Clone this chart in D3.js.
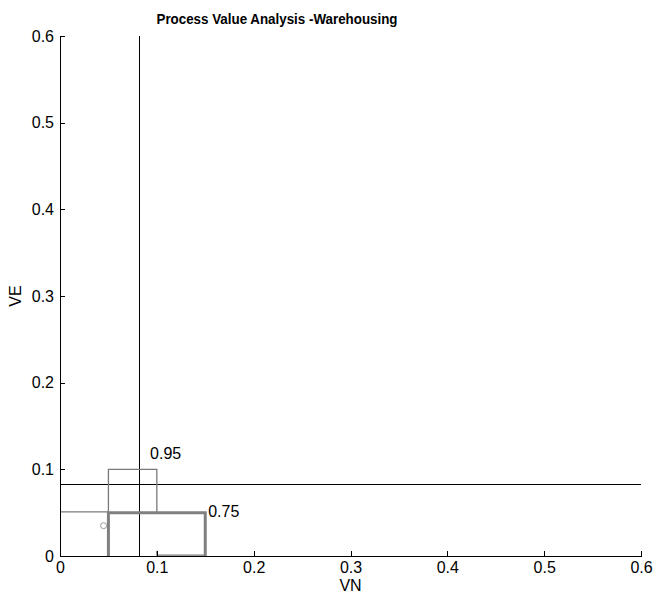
<!DOCTYPE html>
<html>
<head>
<meta charset="utf-8">
<script src="https://cdn.jsdelivr.net/npm/d3@7"></script>
<style>
  body { margin: 0; background: #fff; }
  svg text { font-family: "Liberation Sans", Arial, Helvetica, sans-serif; fill: #000; }
</style>
</head>
<body>
<svg id="chart" width="656" height="600"></svg>
<script>
// Axis ticks
const xTicks = [0, 0.1, 0.2, 0.3, 0.4, 0.5, 0.6];
const yTicks = [0, 0.1, 0.2, 0.3, 0.4, 0.5, 0.6];

// Threshold lines (VN cut and VE cut)
const vnThreshold = 0.082;
const veThreshold = 0.083;

// Region for level 0.95 (thin outline)
const box95 = [[0.05, 0.05], [0.05, 0.1], [0.1, 0.1], [0.1, 0.05]];
// Region for level 0.75 (thick outline)
const box75 = [[0.05, 0], [0.05, 0.05], [0.15, 0.05], [0.15, 0]];
// Lower boundary pieces of the 0.75 region
const baseSegment = [[0.1, 0.006], [0.1, 0.001], [0.15, 0.001]];
const leftSegment = [[0, 0.051], [0.05, 0.051]];
// Operating point
const point = [[0.045, 0.035]];
// Region labels
const labels = [
  { text: "0.95", x: 0.093, y: 0.112 },
  { text: "0.75", x: 0.153, y: 0.045 }
];

const svg = d3.select("#chart");
const m = { left: 60, right: 15, top: 36, bottom: 44 };
const W = 656, H = 600;

const x = d3.scaleLinear().domain([0, 0.6]).range([m.left, W - m.right]);
const y = d3.scaleLinear().domain([0, 0.6]).range([H - m.bottom, m.top]);
const line = d3.line().x(d => x(d[0])).y(d => y(d[1]));

// Threshold lines
svg.append("line")
  .attr("x1", x(vnThreshold)).attr("x2", x(vnThreshold))
  .attr("y1", y(0)).attr("y2", y(0.6))
  .attr("stroke", "#000").attr("stroke-width", 1)
  .attr("shape-rendering", "crispEdges");
svg.append("line")
  .attr("x1", x(0)).attr("x2", x(0.6))
  .attr("y1", y(veThreshold)).attr("y2", y(veThreshold))
  .attr("stroke", "#000").attr("stroke-width", 1)
  .attr("shape-rendering", "crispEdges");

// Thin region outline
svg.append("path").attr("d", line(box95))
  .attr("fill", "none").attr("stroke", "#7a7a7a").attr("stroke-width", 1.3);
svg.append("path").attr("d", line(leftSegment))
  .attr("fill", "none").attr("stroke", "#7a7a7a").attr("stroke-width", 1.3);
svg.append("path").attr("d", line(baseSegment))
  .attr("fill", "none").attr("stroke", "#7a7a7a").attr("stroke-width", 1.3);

// Thick region outline
svg.append("path").attr("d", line(box75))
  .attr("fill", "none").attr("stroke", "#808080").attr("stroke-width", 3)
  .attr("stroke-linejoin", "miter");

// Operating point
svg.selectAll("circle.pt").data(point).enter().append("circle")
  .attr("class", "pt")
  .attr("cx", d => x(d[0])).attr("cy", d => y(d[1])).attr("r", 3)
  .attr("fill", "none").attr("stroke", "#999").attr("stroke-width", 1);

// Labels
svg.selectAll("text.lbl").data(labels).enter().append("text")
  .attr("class", "lbl")
  .attr("x", d => x(d.x)).attr("y", d => y(d.y))
  .attr("font-size", 16)
  .text(d => d.text);

// Axes (ticks pointing inward)
const fmt = d => d === 0 ? "0" : d3.format(".1f")(d);
const xAxis = svg.append("g")
  .attr("transform", `translate(0,${y(0)})`)
  .call(d3.axisBottom(x).tickValues(xTicks).tickFormat(fmt).tickSizeInner(-5).tickSizeOuter(0).tickPadding(6));
const yAxis = svg.append("g")
  .attr("transform", `translate(${x(0)},0)`)
  .call(d3.axisLeft(y).tickValues(yTicks).tickFormat(fmt).tickSizeInner(-5).tickSizeOuter(0).tickPadding(6));
[xAxis, yAxis].forEach(g => {
  g.select(".domain").attr("stroke", "#000").attr("stroke-width", 1).attr("shape-rendering", "crispEdges");
  g.selectAll(".tick line").attr("stroke", "#000").attr("shape-rendering", "crispEdges");
  g.selectAll(".tick text").attr("font-size", 16).attr("font-family", null).attr("fill", "#000");
});

// Axis titles
svg.append("text")
  .attr("x", x(0.3)).attr("y", 591)
  .attr("text-anchor", "middle").attr("font-size", 16)
  .text("VN");
svg.append("text")
  .attr("transform", `translate(21,${y(0.3)}) rotate(-90)`)
  .attr("text-anchor", "middle").attr("font-size", 16)
  .text("VE");

// Title
svg.append("text")
  .attr("x", 277).attr("y", 24)
  .attr("text-anchor", "middle").attr("font-size", 14.5).attr("font-weight", "bold")
  .attr("textLength", 241).attr("lengthAdjust", "spacingAndGlyphs")
  .text("Process Value Analysis -Warehousing");
</script>
</body>
</html>
